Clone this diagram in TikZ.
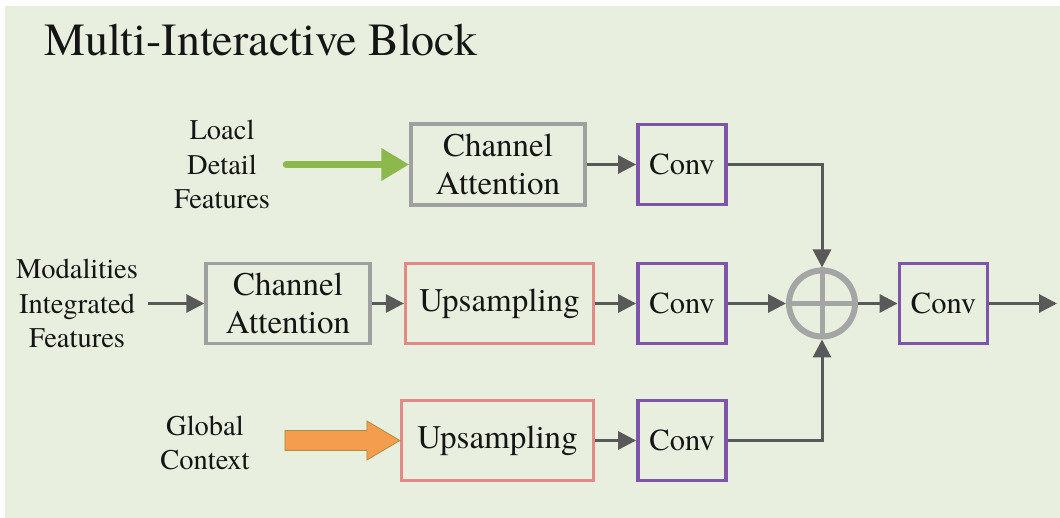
\documentclass[tikz,border=0pt]{standalone}
\usepackage{fontspec}
\setmainfont{texgyretermes}[Extension=.otf, UprightFont=*-regular, BoldFont=*-bold, ItalicFont=*-italic, BoldItalicFont=*-bolditalic]
\usetikzlibrary{arrows.meta}
\definecolor{bgc}{HTML}{E8EFDE}
\definecolor{grayb}{HTML}{A0A0A0}
\definecolor{pinkb}{HTML}{E48A86}
\definecolor{purpb}{HTML}{7E55A8}
\definecolor{arrc}{HTML}{595959}
\definecolor{circc}{HTML}{A5A5A5}
\definecolor{greena}{HTML}{8DB84E}
\definecolor{orangea}{HTML}{F59D4F}
\definecolor{orangeb}{HTML}{A8903E}
\definecolor{txt}{HTML}{151515}
\begin{document}
\begin{tikzpicture}[x=1pt,y=-1pt,
  box/.style={draw, rectangle, inner sep=0pt, align=center, text=txt,
    font=\fontsize{33}{38}\selectfont},
  cabox/.style={box, draw=grayb, line width=3.5pt},
  upbox/.style={box, draw=pinkb, line width=3.2pt},
  convbox/.style={box, draw=purpb, line width=3.8pt, minimum width=88pt, minimum height=80pt,
    font=\fontsize{30.5}{36}\selectfont},
  lbl/.style={align=center, text=txt, inner sep=0pt, font=\fontsize{28.5}{34.5}\selectfont},
  arr/.style={draw=arrc, line width=3pt, -{Triangle[length=18pt,width=18pt]}},
]
\useasboundingbox (0,0) rectangle (1060,518);
\fill[white] (0,0) rectangle (1060,518);
\fill[bgc] (5,6) rectangle (1060,518);

\node[anchor=base west, text=txt, inner sep=0pt, font=\fontsize{46}{50}\selectfont] (title) at (44,56) {Multi-Interactive Block};

% labels
\node[lbl] (lbl1) at (222,164.5) {Loacl\\Detail\\Features};
\node[lbl] (lbl2) at (77,303.5) {Modalities\\Integrated\\Features};
\node[lbl] (lbl3) at (205,443) {Global\\Context};

% row 1
\node[cabox, minimum width=174pt, minimum height=81pt] (ca1) at (498,164.5) {Channel\\Attention};
\node[convbox] (conv1) at (682,164.5) {Conv};

% row 2
\node[cabox, minimum width=164pt, minimum height=80pt] (ca2) at (288,303.5) {Channel\\Attention};
\node[upbox, minimum width=188pt, minimum height=80pt] (up2) at (499.5,303.5) {Upsampling};
\node[convbox] (conv2) at (682,303.5) {Conv};
\node[circle, draw=circc, line width=6pt, minimum size=66pt, inner sep=0pt] (circ) at (822,303.5) {};
\draw[circc, line width=5pt] (circ.north) -- (circ.south) (circ.west) -- (circ.east);
\node[convbox] (conv4) at (943.5,303.5) {Conv};
\coordinate (out) at (1057,303.5);

% row 3
\node[upbox, minimum width=192pt, minimum height=80pt] (up3) at (497.5,440.5) {Upsampling};
\node[convbox] (conv3) at (682,440.5) {Conv};

% connectors
\draw[greena, line width=7pt, line cap=round, -{Triangle[length=28pt,width=31pt]}]
  ([xshift=16pt]lbl1.east) -- (ca1.west);
\draw[arr] ([xshift=10pt]lbl2.east) -- (ca2.west);
\draw[arr] (ca1.east) -- (conv1.west);
\draw[arr] (ca2.east) -- (up2.west);
\draw[arr] (up2.east) -- (conv2.west);
\draw[arr] (up3.east) -- (conv3.west);
\draw[arr] (conv2.east) -- (circ.west);
\draw[arr] (circ.east) -- (conv4.west);
\draw[arr] (conv4.east) -- (out);
\draw[arr] (conv1.east) -| (circ.north);
\draw[arr] (conv3.east) -| (circ.south);

% orange block arrow into up3
\filldraw[fill=orangea, draw=orangeb, line width=0.8pt, line join=miter]
  (up3.west) -- ++(-33,-19.5) -- ++(0,9.5) -- ++(-82,0) -- ++(0,20) -- ++(82,0) -- ++(0,9.5) -- cycle;
\end{tikzpicture}
\end{document}
